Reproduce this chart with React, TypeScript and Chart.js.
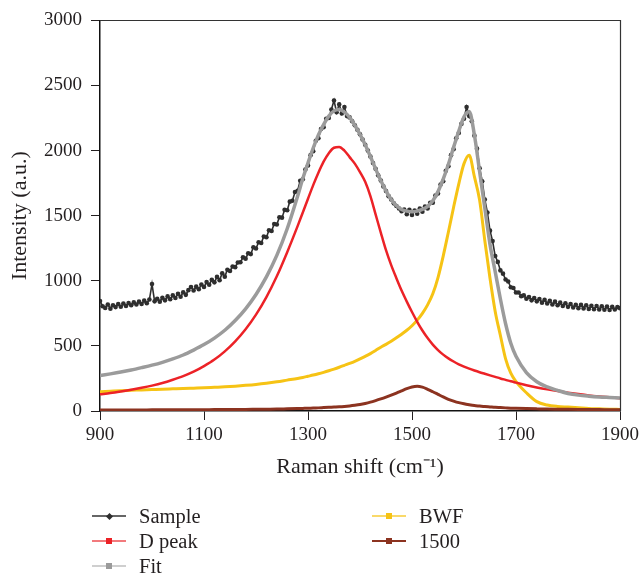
import React, { useEffect, useRef } from "react";
import { Chart, registerables } from "chart.js";

Chart.register(...registerables);

// ---------- data ----------
const sampleShift = [
  900, 905, 910, 915, 920, 925, 930, 935, 940, 945, 950, 955, 960, 965, 970, 975, 980, 985, 990, 995,
  1000, 1005, 1010, 1015, 1020, 1025, 1030, 1035, 1040, 1045, 1050, 1055, 1060, 1065, 1070, 1075, 1080, 1085, 1090, 1095,
  1100, 1105, 1110, 1115, 1120, 1125, 1130, 1135, 1140, 1145, 1150, 1155, 1160, 1165, 1170, 1175, 1180, 1185, 1190, 1195,
  1200, 1205, 1210, 1215, 1220, 1225, 1230, 1235, 1240, 1245, 1250, 1255, 1260, 1265, 1270, 1275, 1280, 1285, 1290, 1295,
  1300, 1305, 1310, 1315, 1320, 1325, 1330, 1335, 1340, 1345, 1350, 1355, 1360, 1365, 1370, 1375, 1380, 1385, 1390, 1395,
  1400, 1405, 1410, 1415, 1420, 1425, 1430, 1435, 1440, 1445, 1450, 1455, 1460, 1465, 1470, 1475, 1480, 1485, 1490, 1495,
  1500, 1505, 1510, 1515, 1520, 1525, 1530, 1535, 1540, 1545, 1550, 1555, 1560, 1565, 1570, 1575, 1580, 1585, 1590, 1595,
  1600, 1605, 1610, 1615, 1620, 1625, 1630, 1635, 1640, 1645, 1650, 1655, 1660, 1665, 1670, 1675, 1680, 1685, 1690, 1695,
  1700, 1705, 1710, 1715, 1720, 1725, 1730, 1735, 1740, 1745, 1750, 1755, 1760, 1765, 1770, 1775, 1780, 1785, 1790, 1795,
  1800, 1805, 1810, 1815, 1820, 1825, 1830, 1835, 1840, 1845, 1850, 1855, 1860, 1865, 1870, 1875, 1880, 1885, 1890, 1895,
  1900,
];
const sampleIntensity = [
  845, 805, 792, 818, 786, 812, 798, 822, 801, 826, 807, 830, 812, 834, 818, 840, 822, 848, 828, 856,
  975, 842, 862, 840, 870, 850, 880, 858, 888, 868, 900, 878, 912, 892, 928, 952, 925, 955, 935, 972,
  952, 990, 970, 1008, 988, 1030, 1005, 1058, 1032, 1085, 1075, 1110, 1105, 1140, 1142, 1180, 1170, 1212, 1205, 1258,
  1248, 1296, 1290, 1340, 1335, 1388, 1382, 1436, 1432, 1488, 1485, 1545, 1542, 1608, 1615, 1682, 1692, 1768, 1780, 1855,
  1885, 1965, 1995, 2075, 2095, 2165, 2180, 2245, 2250, 2315, 2385, 2295, 2355, 2285, 2335, 2265, 2255, 2225, 2195, 2160,
  2125, 2085, 2045, 2000, 1955, 1905, 1860, 1810, 1770, 1725, 1690, 1650, 1625, 1595, 1575, 1555, 1535, 1548, 1512, 1545,
  1505, 1540, 1515, 1555, 1530, 1570, 1555, 1600, 1600, 1655, 1670, 1740, 1765, 1845, 1880, 1965, 2010, 2095, 2135, 2205,
  2245, 2335, 2265, 2225, 2115, 2015, 1865, 1765, 1625, 1525, 1385, 1305, 1190, 1145, 1080, 1055, 1010, 995, 950, 945,
  910, 910, 882, 888, 862, 876, 850, 868, 842, 860, 832, 855, 826, 846, 818, 840, 812, 832, 806, 828,
  800, 822, 795, 816, 790, 815, 788, 812, 784, 808, 782, 806, 780, 804, 778, 802, 776, 800, 780, 798,
  790,
];

const fitShift = [
  900, 920, 940, 960, 980, 1000, 1020, 1040, 1060, 1080, 1100, 1120, 1140, 1160, 1180, 1200, 1220, 1240, 1260, 1280,
  1290, 1300, 1310, 1320, 1330, 1340, 1350, 1360, 1370, 1380, 1390, 1400, 1410, 1420, 1430, 1440, 1450, 1460, 1470, 1480,
  1490, 1500, 1510, 1520, 1530, 1540, 1550, 1560, 1570, 1580, 1590, 1600, 1610, 1620, 1630, 1640, 1650, 1660, 1670, 1680,
  1690, 1700, 1720, 1740, 1760, 1780, 1800, 1820, 1840, 1860, 1880, 1900,
];
const dPeak = [
  128, 138, 150, 163, 178, 195, 215, 240, 268, 302, 345, 395, 458, 535, 628, 740, 875, 1035, 1220, 1420,
  1525, 1630, 1735, 1830, 1915, 1980, 2022, 2028, 2000, 1950, 1900, 1835, 1760, 1650, 1510, 1370, 1235, 1120, 1020, 925,
  840, 760, 685, 618, 560, 510, 468, 433, 404, 380, 359, 341, 325, 311, 298, 286, 274, 262, 250, 239,
  228, 218, 198, 181, 166, 153, 141, 130, 120, 112, 105, 98,
];
const fitCurve = [
  272, 285, 299, 315, 333, 352, 374, 400, 430, 468, 510, 560, 620, 695, 785, 895, 1030, 1195, 1400, 1650,
  1785, 1905, 2020, 2120, 2200, 2265, 2305, 2315, 2295, 2255, 2195, 2125, 2045, 1955, 1860, 1770, 1690, 1625, 1578, 1548,
  1535, 1530, 1535, 1548, 1572, 1615, 1685, 1780, 1895, 2025, 2150, 2260, 2300, 2120, 1840, 1560, 1280, 1070, 860, 670,
  520, 420, 295, 225, 185, 158, 135, 122, 114, 108, 104, 100,
];
const bwfCurve = [
  148, 152, 156, 159, 162, 165, 168, 170, 172, 175, 178, 182, 186, 191, 197, 204, 213, 224, 237, 250,
  258, 267, 276, 286, 297, 309, 322, 336, 351, 366, 382, 400, 420, 441, 465, 490, 512, 536, 562, 590,
  620, 655, 698, 750, 815, 900, 1025, 1190, 1375, 1565, 1745, 1900, 1965, 1800, 1620, 1310, 1020, 765, 580, 400,
  290, 225, 140, 72, 46, 35, 30, 25, 20, 17, 14, 12,
];
const band1500 = [
  8, 8, 8, 8, 8, 9, 9, 9, 10, 10, 10, 11, 11, 12, 12, 13, 14, 15, 17, 19,
  20, 21, 23, 24, 26, 28, 30, 32, 35, 39, 44, 50, 58, 68, 80, 93, 107, 122, 138, 155,
  172, 185, 190, 183, 167, 148, 128, 108, 90, 76, 64, 55, 48, 42, 38, 34, 31, 28, 26, 24,
  22, 21, 19, 17, 15, 14, 13, 12, 11, 11, 10, 10,
];

const xTicks = [900, 1100, 1300, 1500, 1700, 1900];
const yTicks = [0, 500, 1000, 1500, 2000, 2500, 3000];
const seriesNames = ["Sample", "D peak", "Fit", "BWF", "1500"];
const xTitle = "Raman shift (cm\u207B\u00B9)";
const yTitle = "Intensity (a.u.)";

// ---------- style ----------
const FONT = "'Liberation Serif', 'Times New Roman', serif";
const TEXT = "#231f20";
const C_SAMPLE = "#2e2e2e";
const C_D = "#ec2227";
const C_FIT = "#9b9b9b";
const C_BWF = "#f6c315";
const C_1500 = "#8c3320";

const pairs = (xs: number[], ys: number[]) => xs.map((x, i) => ({ x, y: ys[i] }));

const framePlugin = {
  id: "frame",
  afterDatasetsDraw(chart: any) {
    const { ctx, chartArea } = chart;
    const { left, top, right, bottom } = chartArea;
    ctx.save();
    ctx.strokeStyle = "#333";
    ctx.lineWidth = 1.2;
    ctx.beginPath();
    ctx.moveTo(left, Math.round(top) + 0.5);
    ctx.lineTo(Math.round(right) + 0.5, Math.round(top) + 0.5);
    ctx.lineTo(Math.round(right) + 0.5, bottom);
    ctx.stroke();
    ctx.restore();
  },
};

function LegendItem(props: { x: number; y: number; color: string; lineColor: string; label: string; diamond?: boolean }) {
  const { x, y, color, lineColor, label, diamond } = props;
  return (
    <>
      <div style={{ position: "absolute", left: x, top: y - 1, width: 34, height: 2, background: lineColor }} />
      <div
        style={{
          position: "absolute",
          left: x + 17 - (diamond ? 2.5 : 3),
          top: y - (diamond ? 2.5 : 3),
          width: diamond ? 5 : 6,
          height: diamond ? 5 : 6,
          background: color,
          transform: diamond ? "rotate(45deg)" : undefined,
        }}
      />
      <div
        style={{
          position: "absolute",
          left: x + 47,
          top: y - 13,
          height: 26,
          lineHeight: "26px",
          fontFamily: FONT,
          fontSize: 20.5,
          color: TEXT,
          whiteSpace: "nowrap",
        }}
      >
        {label}
      </div>
    </>
  );
}

export default function App() {
  const canvasRef = useRef<HTMLCanvasElement | null>(null);

  useEffect(() => {
    if (!canvasRef.current) return;
    const tickFont = { family: FONT, size: 19 };
    const titleFont = { family: FONT, size: 22 };
    const gridOpts = { display: true, drawOnChartArea: false, drawTicks: true, tickLength: 9, color: "#231f20", lineWidth: 1 };
    const borderOpts = { display: true, color: "#111", width: 1.5 };
    const plain = (v: any) => String(v);

    const chart = new Chart(canvasRef.current, {
      type: "line",
      data: {
        datasets: [
          {
            label: seriesNames[4],
            data: pairs(fitShift, band1500),
            borderColor: C_1500,
            backgroundColor: C_1500,
            borderWidth: 3,
            pointRadius: 0,
            cubicInterpolationMode: "monotone",
            order: 0,
          },
          {
            label: seriesNames[2],
            data: pairs(fitShift, fitCurve),
            borderColor: C_FIT,
            backgroundColor: C_FIT,
            borderWidth: 3.5,
            pointRadius: 0,
            cubicInterpolationMode: "monotone",
            order: 1,
          },
          {
            label: seriesNames[0],
            data: pairs(sampleShift, sampleIntensity),
            borderColor: C_SAMPLE,
            backgroundColor: C_SAMPLE,
            borderWidth: 1.6,
            pointRadius: 2.3,
            pointBorderWidth: 0,
            pointBackgroundColor: C_SAMPLE,
            tension: 0,
            order: 2,
          },
          {
            label: seriesNames[1],
            data: pairs(fitShift, dPeak),
            borderColor: C_D,
            backgroundColor: C_D,
            borderWidth: 2.5,
            pointRadius: 0,
            cubicInterpolationMode: "monotone",
            order: 3,
          },
          {
            label: seriesNames[3],
            data: pairs(fitShift, bwfCurve),
            borderColor: C_BWF,
            backgroundColor: C_BWF,
            borderWidth: 3,
            pointRadius: 0,
            cubicInterpolationMode: "monotone",
            order: 4,
          },
        ],
      },
      options: {
        animation: false,
        responsive: false,
        devicePixelRatio: 1,
        layout: { padding: { left: 0, top: 20, right: 23, bottom: 0 } },
        plugins: { legend: { display: false }, tooltip: { enabled: false } },
        scales: {
          x: {
            type: "linear",
            min: 900,
            max: 1900,
            afterBuildTicks: (s: any) => {
              s.ticks = xTicks.map((v) => ({ value: v }));
            },
            afterFit: (s: any) => {
              s.height = 164;
            },
            ticks: { font: tickFont, color: TEXT, padding: 4, maxRotation: 0, autoSkip: false, callback: plain },
            grid: gridOpts,
            border: borderOpts,
            title: { display: true, text: xTitle, font: titleFont, color: TEXT, padding: { top: 0, bottom: 95 } },
          },
          y: {
            type: "linear",
            min: 0,
            max: 3000,
            afterBuildTicks: (s: any) => {
              s.ticks = yTicks.map((v) => ({ value: v }));
            },
            afterFit: (s: any) => {
              s.width = 100;
            },
            ticks: { font: tickFont, color: TEXT, padding: 9, autoSkip: false, callback: plain },
            grid: gridOpts,
            border: borderOpts,
            title: { display: true, text: yTitle, font: titleFont, color: TEXT, padding: { top: 7, bottom: 0 } },
          },
        },
      } as any,
      plugins: [framePlugin],
    });
    return () => chart.destroy();
  }, []);

  return (
    <div style={{ position: "absolute", left: 0, top: 0, width: 643, height: 575, background: "#fff" }}>
      <canvas ref={canvasRef} width={643} height={575} style={{ display: "block", width: 643, height: 575 }} />
      <LegendItem x={92} y={516} color={C_SAMPLE} lineColor="#666" label={seriesNames[0]} diamond />
      <LegendItem x={92} y={541} color={C_D} lineColor="#f27a7d" label={seriesNames[1]} />
      <LegendItem x={92} y={566} color={C_FIT} lineColor="#cfcfcf" label={seriesNames[2]} />
      <LegendItem x={372} y={516} color={C_BWF} lineColor="#f9d96a" label={seriesNames[3]} />
      <LegendItem x={372} y={541} color={C_1500} lineColor={C_1500} label={seriesNames[4]} />
    </div>
  );
}
